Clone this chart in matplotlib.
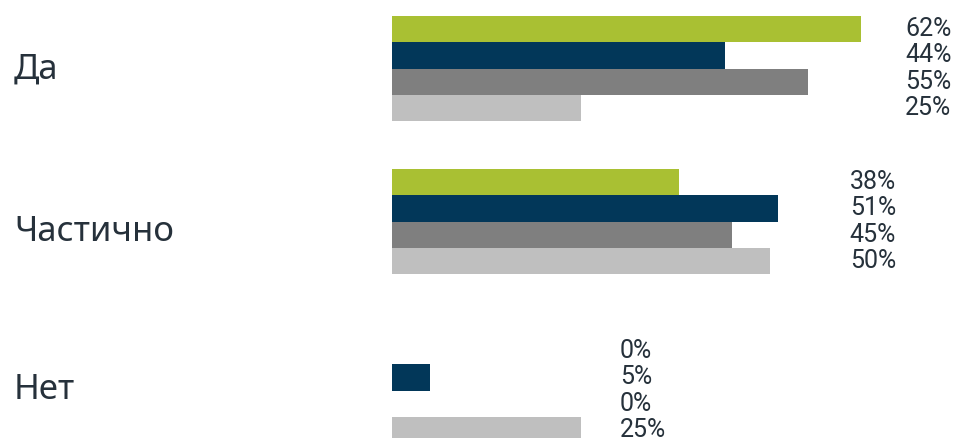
import matplotlib
matplotlib.use("Agg")
import matplotlib.pyplot as plt

# data
categories = ["Да", "Частично", "Нет"]
series_colors = ["#A9C033", "#023759", "#7F7F7F", "#BFBFBF"]
values = [
    [62, 44, 55, 25],   # Да
    [38, 51, 45, 50],   # Частично
    [0, 5, 0, 25],      # Нет
]
labels = [[f"{v}%" for v in row] for row in values]

# layout (pixel units on y, percent on x)
group_top = [16, 169, 338]
bar_h = 26.3
label_x = [67.8, 60.5, 30.1]
cat_y = [70, 232, 390]

W, H = 958, 438
fig = plt.figure(figsize=(W / 100, H / 100), dpi=100)
ax = fig.add_axes([0, 0, 1, 1])
px = 7.565  # pixels per percent
x0 = 392
ax.set_xlim(-x0 / px, (W - x0) / px)
ax.set_ylim(H, 0)
ax.axis("off")

txt_color = "#26313B"
for g, row in enumerate(values):
    for i, v in enumerate(row):
        yc = group_top[g] + bar_h * (i + 0.5)
        ax.barh(yc, v, height=bar_h, color=series_colors[i], left=0)
        ax.text(label_x[g], yc, labels[g][i], ha="left", va="center",
                fontsize=18, color=txt_color,
                family=["Liberation Sans Narrow", "Roboto", "DejaVu Sans"])
    ax.text(-x0 / px + 14 / px, cat_y[g], categories[g], ha="left", va="center",
            fontsize=25, color=txt_color, family=["Noto Sans", "DejaVu Sans"])

fig.savefig("out.png", dpi=100)
